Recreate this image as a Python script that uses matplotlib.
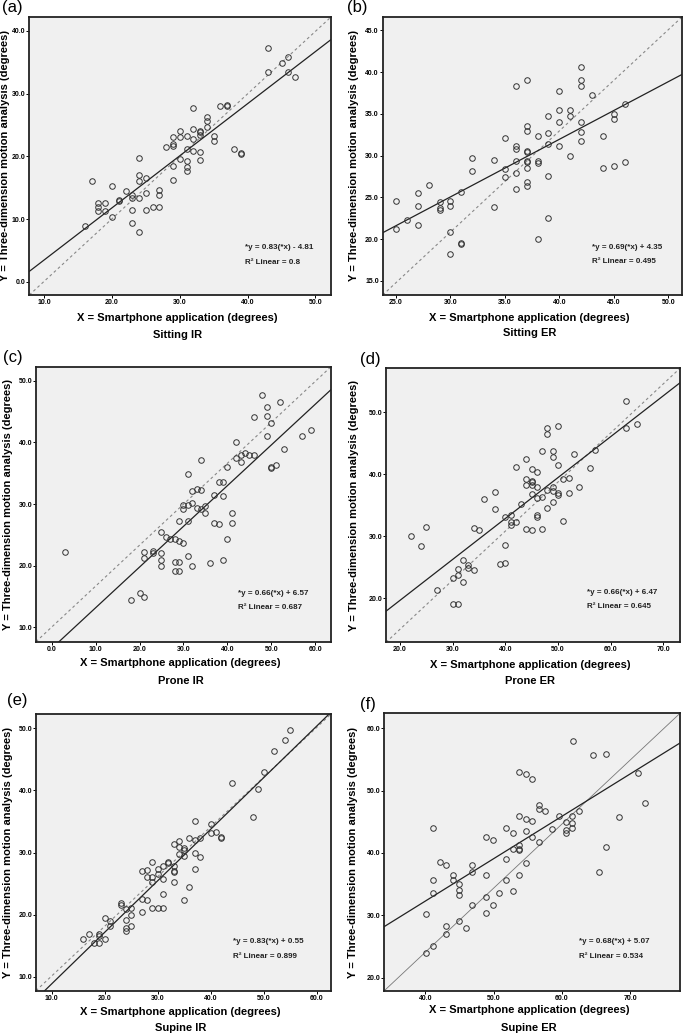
import matplotlib.pyplot as plt
from matplotlib.ticker import FormatStrFormatter

plt.rcParams['font.family'] = ['Liberation Sans', 'DejaVu Sans']

# ---- data ----
a_x = [16, 17, 18, 18, 18, 19, 19, 20, 20, 21, 21, 22, 23, 23, 23, 23, 24, 24, 24, 24, 24,
       25, 25, 25, 26, 27, 27, 27, 28, 29, 29, 29, 29, 29, 30, 30, 30, 31, 31, 31, 31, 31,
       32, 32, 32, 32, 33, 33, 33, 33, 33, 34, 34, 34, 35, 35, 36, 37, 37, 38, 39, 39,
       43, 43, 45, 46, 46, 47]
a_y = [8.9, 16.0, 12.5, 11.9, 11.3, 12.5, 11.3, 15.2, 10.4, 13.1, 12.8, 14.5, 13.9, 13.4, 11.5, 9.4,
       19.7, 17.1, 16.0, 13.4, 8.0, 16.5, 14.1, 11.5, 12.0, 14.7, 13.8, 12.0, 21.5,
       23.1, 22.0, 21.7, 18.5, 16.3, 24.0, 23.0, 19.5, 23.2, 21.2, 19.3, 18.3, 17.7,
       27.7, 24.4, 22.8, 20.8, 24.0, 23.9, 23.4, 20.7, 19.4, 26.2, 25.6, 24.6, 23.2, 22.4,
       28.0, 28.1, 28.0, 21.1, 20.5, 20.4, 37.3, 33.4, 34.9, 35.9, 33.5, 32.6]

b_x = [25, 25, 26, 27, 27, 27, 28, 29, 29, 29, 30, 30, 30, 30, 31, 31, 31, 32, 32, 34, 34,
       35, 35, 35, 36, 36, 36, 36, 36, 36, 37, 37, 37, 37, 37, 37, 37, 37, 37, 37,
       38, 38, 38, 38, 39, 39, 39, 39, 39, 40, 40, 40, 40, 41, 41, 41,
       42, 42, 42, 42, 42, 42, 43, 44, 44, 45, 45, 45, 46, 46]
b_y = [24.5, 21.2, 22.3, 25.5, 24.0, 21.7, 26.5, 24.4, 23.7, 23.5, 24.6, 24.0, 20.8, 18.2,
       25.6, 19.5, 19.4, 29.7, 28.1, 29.5, 23.8, 32.1, 28.4, 27.4,
       38.3, 31.1, 30.8, 29.3, 27.9, 26.0, 39.0, 33.6, 32.9, 30.6, 30.4, 29.4, 29.2, 28.5, 26.8, 26.4,
       32.3, 29.4, 29.1, 20.0, 34.7, 32.7, 31.4, 27.5, 22.5, 37.7, 35.5, 34.0, 31.2,
       35.5, 34.7, 29.9, 40.6, 39.0, 38.3, 34.0, 32.8, 31.7, 37.3, 32.3, 28.5,
       35.0, 34.4, 28.7, 36.2, 29.2]

c_x = [3, 18, 20, 21, 21, 21, 23, 23, 25, 25, 25, 25, 26, 27, 28, 28, 28, 29, 29, 29, 29,
       30, 30, 30, 31, 31, 31, 31, 32, 32, 32, 33, 33, 34, 34, 34, 35, 35, 36, 37, 37,
       38, 38, 39, 39, 39, 40, 40, 41, 41, 42, 42, 43, 43, 44, 45, 46, 46, 48,
       49, 49, 49, 50, 50, 50, 51, 52, 53, 57, 59]
c_y = [22.2, 14.4, 15.6, 14.9, 22.2, 21.3, 22.4, 22.0, 25.5, 22.0, 21.0, 19.9, 24.6, 24.4,
       24.4, 20.6, 19.1, 27.2, 24.0, 20.6, 19.1, 29.8, 29.2, 23.7, 34.8, 29.9, 27.2, 21.5,
       32.1, 30.1, 20.0, 32.5, 29.4, 37.1, 32.2, 29.2, 29.6, 28.6, 20.4, 31.5, 27.0,
       33.5, 26.7, 33.5, 31.3, 21.0, 36.0, 24.3, 28.5, 26.9, 40.1, 37.4, 37.9, 36.8,
       38.2, 37.9, 44.1, 37.9, 47.7, 45.7, 44.2, 41.1, 43.1, 36.0, 35.8, 36.3, 46.5,
       38.9, 41.1, 42.0]

d_x = [22, 24, 25, 27, 30, 31, 30, 31, 31, 32, 32, 33, 33, 34, 34, 35, 36, 38, 38, 39,
       40, 40, 40, 41, 41, 41, 42, 42, 43, 44, 44, 44, 44, 45, 45, 45, 45, 45, 45,
       46, 46, 46, 46, 46, 47, 47, 47, 48, 48, 48, 48, 49, 49, 49, 49, 49,
       50, 50, 50, 50, 51, 51, 52, 52, 53, 54, 56, 57, 63, 63, 65]
d_y = [30.0, 28.5, 31.5, 21.3, 19.0, 19.1, 23.2, 23.8, 24.8, 22.6, 26.1, 25.3, 24.9, 24.6,
       31.3, 31.0, 36.0, 37.1, 34.4, 25.5, 28.6, 25.7, 33.1, 33.5, 32.3, 31.8, 32.3, 41.1,
       35.2, 42.5, 39.2, 38.2, 31.1, 40.8, 39.0, 38.7, 38.2, 36.9, 31.0,
       40.4, 38.0, 36.2, 33.5, 33.1, 43.8, 36.3, 31.1, 47.5, 46.5, 37.5, 34.6,
       43.7, 42.8, 38.0, 37.3, 35.5, 47.8, 41.5, 37.0, 36.6, 39.2, 32.5, 39.4, 37.0,
       43.2, 38.0, 41.0, 44.0, 51.8, 47.5, 48.1]

e_x = [16, 17, 18, 19, 19, 19, 20, 20, 21, 21, 23, 23, 24, 24, 24, 24, 25, 25, 25,
       27, 27, 27, 28, 28, 28, 29, 29, 29, 29, 30, 30, 30, 31, 31, 31, 31, 32, 32,
       33, 33, 33, 33, 33, 34, 34, 34, 35, 35, 35, 35, 36, 36, 37, 37, 37, 37, 38, 38,
       40, 40, 41, 42, 42, 44, 48, 49, 50, 52, 54, 55]
e_y = [16.0, 16.9, 15.5, 16.9, 16.6, 15.5, 19.5, 16.0, 19.0, 18.2, 21.8, 21.5, 20.9, 19.1,
       17.8, 17.4, 21.0, 19.9, 18.2, 27.1, 22.5, 20.4, 27.2, 26.1, 22.3, 28.5, 26.1, 25.2,
       21.0, 27.3, 26.6, 21.0, 27.9, 25.7, 23.3, 21.0, 28.5, 28.3, 27.8, 27.1, 26.8, 25.2,
       31.4, 31.9, 30.9, 29.8, 30.7, 30.4, 29.4, 22.3, 32.3, 24.5, 35.0, 32.0, 29.9, 27.4,
       32.3, 29.3, 34.6, 33.1, 33.3, 32.5, 32.4, 41.2, 35.7, 40.3, 42.9, 46.3, 48.1, 49.7]

f_x = [40.1, 40.1, 41.1, 41.1, 41.1, 41.1, 42.1, 43.0, 43.0, 43.0, 44.0, 44.0, 45.0, 45.0,
       45.0, 45.0, 46.0, 46.9, 46.9, 46.9, 48.9, 48.9, 48.9, 48.9, 49.9, 49.9, 50.8,
       51.8, 51.8, 51.8, 52.8, 52.8, 52.8, 53.7, 53.7, 53.7, 53.7, 53.7, 54.7, 54.7, 54.7,
       55.7, 55.7, 56.7, 56.7, 56.7, 57.6, 58.6, 59.6, 60.6, 60.6, 60.6, 61.5, 61.5, 61.5,
       62.5, 53.7, 54.7, 55.7, 61.6, 64.5, 66.4, 71.2, 72.2, 68.3, 66.4, 65.4]
f_y = [30.2, 24.0, 44.0, 35.6, 33.6, 25.1, 38.5, 38.1, 28.2, 27.0, 36.5, 35.6, 35.0, 34.0,
       33.3, 29.1, 28.0, 38.0, 37.0, 31.7, 42.5, 36.4, 33.0, 30.4, 42.0, 31.6, 33.5,
       44.0, 39.0, 35.6, 43.2, 40.7, 33.9, 40.7, 40.4, 45.9, 41.3, 36.5, 45.4, 43.5, 38.4,
       45.1, 42.5, 41.7, 47.7, 47.1, 46.8, 43.9, 46.0, 45.0, 43.7, 43.2, 45.9, 44.8, 44.0,
       46.8, 53.0, 52.6, 51.9, 58.0, 55.7, 55.8, 52.8, 48.0, 45.8, 41.0, 36.9]

fits = [(0.83, -4.81), (0.69, 4.35), (0.66, 6.57), (0.66, 6.47), (0.83, 0.55), (0.68, 5.07)]
eq_text = ["*y = 0.83(*x) - 4.81", "*y = 0.69(*x) + 4.35", "*y = 0.66(*x) + 6.57",
           "*y = 0.66(*x) + 6.47", "*y = 0.83(*x) + 0.55", "*y = 0.68(*x) + 5.07"]
r2_text = ["R\u00b2 Linear = 0.8", "R\u00b2 Linear = 0.495", "R\u00b2 Linear = 0.687",
           "R\u00b2 Linear = 0.645", "R\u00b2 Linear = 0.899", "R\u00b2 Linear = 0.534"]
titles = ["Sitting IR", "Sitting ER", "Prone IR", "Prone ER", "Supine IR", "Supine ER"]
letters = ["(a)", "(b)", "(c)", "(d)", "(e)", "(f)"]
xs = [a_x, b_x, c_x, d_x, e_x, f_x]
ys = [a_y, b_y, c_y, d_y, e_y, f_y]

# ---- layout (pixel boxes of each plot frame: left, top, right, bottom) ----
W, H = 685, 1035
boxes = [(29.3, 17, 331, 295), (382.7, 17, 682, 295),
         (36, 366.7, 331, 641.7), (386, 368.3, 680, 642.3),
         (36, 714, 331, 990.7), (384.3, 713.3, 680, 990.7)]
xlims = [(7.8, 52.3), (23.78, 51.26), (-3.57, 63.6), (17.34, 73.17), (7.04, 62.7), (34.0, 77.3)]
ylims = [(-2.1, 42.2), (13.3, 46.6), (7.67, 52.27), (12.9, 57.1), (7.75, 52.3), (17.9, 62.4)]
xticks = [range(10, 51, 10), range(25, 51, 5), range(0, 61, 10), range(20, 71, 10),
          range(10, 61, 10), range(40, 71, 10)]
yticks = [range(0, 41, 10), range(15, 46, 5), range(10, 51, 10), range(20, 51, 10),
          range(10, 51, 10), range(20, 61, 10)]
ylab_x = [-0.063, -0.079, -0.077, -0.092, -0.079, -0.088]
xlab_cy = [318, 318, 663.3, 665, 1011.7, 1010]     # centre of x label, px
title_cy = [335, 333, 681, 681, 1028, 1028]
letter_pos = [(2, 0), (346.7, 0), (3.3, 350), (360, 351.7), (6.7, 693), (360, 696.7)]
ann_pos = [(0.715, 0.170), (0.700, 0.172), (0.684, 0.176), (0.685, 0.182), (0.669, 0.177), (0.659, 0.177)]

fig = plt.figure(figsize=(W / 100, H / 100), dpi=100)

for i in range(6):
    l, t, r, b = boxes[i]
    ax = fig.add_axes([l / W, 1 - b / H, (r - l) / W, (b - t) / H])
    ax.set_facecolor('#f0f0f0')
    ax.set_xlim(*xlims[i])
    ax.set_ylim(*ylims[i])

    # reference diagonal and fit line
    if i == 5:
        ax.plot([0, 1], [0, 1], transform=ax.transAxes, color='#777777', lw=0.6)
    else:
        ax.plot([0, 1], [0, 1], transform=ax.transAxes, color='#888888', lw=0.8,
                linestyle=(0, (2.5, 2.5)))
    a, c = fits[i]
    ax.axline((0, c), slope=a, color='#222222', lw=0.9)

    ax.plot(xs[i], ys[i], 'o', ms=4.0, mfc='none', mec='#333333', mew=0.7)

    ax.set_xticks(list(xticks[i]))
    ax.set_yticks(list(yticks[i]))
    ax.xaxis.set_major_formatter(FormatStrFormatter('%.1f'))
    ax.yaxis.set_major_formatter(FormatStrFormatter('%.1f'))
    ax.tick_params(direction='out', length=2, width=0.7, pad=0.8, labelsize=5.0)
    for lab in ax.get_xticklabels() + ax.get_yticklabels():
        lab.set_fontweight('bold')
    for sp in ax.spines.values():
        sp.set_linewidth(1.3)
        sp.set_color('#222222')

    ax.set_ylabel("Y = Three-dimension motion analysis (degrees)", fontsize=8, fontweight='bold')
    ax.yaxis.set_label_coords(ylab_x[i], 0.5)
    ax.set_xlabel("X = Smartphone application (degrees)", fontsize=8, fontweight='bold')
    ax.xaxis.set_label_coords(0.49, (b - xlab_cy[i]) / (b - t))
    ax.xaxis.label.set_verticalalignment('center')
    ax.text(0.49, (b - title_cy[i]) / (b - t), titles[i], transform=ax.transAxes,
            ha='center', va='center', fontsize=8, fontweight='bold')

    ax.text(ann_pos[i][0], ann_pos[i][1], eq_text[i], transform=ax.transAxes,
            ha='left', va='center', fontsize=5.8, fontweight='bold', color='#222222')
    ax.text(ann_pos[i][0], ann_pos[i][1] - 0.052, r2_text[i], transform=ax.transAxes,
            ha='left', va='center', fontsize=5.8, fontweight='bold', color='#222222')

    lx, ly = letter_pos[i]
    fig.text(lx / W, 1 - ly / H, letters[i], ha='left', va='top', fontsize=12)

fig.savefig("out.png", dpi=100)
plt.close()
